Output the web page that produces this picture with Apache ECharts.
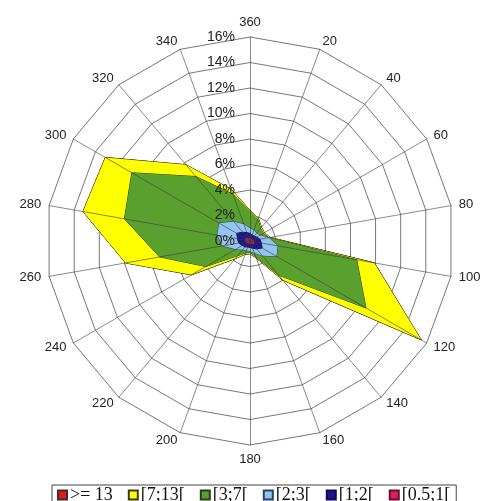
<!DOCTYPE html>
<html>
<head>
<meta charset="utf-8">
<script src="https://cdn.jsdelivr.net/npm/echarts@6/dist/echarts.min.js"></script>
<style>
html,body{margin:0;padding:0;background:#fff;}
#chart{width:484px;height:501px;}
</style>
</head>
<body>
<div id="chart"></div>
<script>
// Wind directions (degrees, clockwise from north)
const directions = [360, 20, 40, 60, 80, 100, 120, 140, 160, 180, 200, 220, 240, 260, 280, 300, 320, 340];
// Radial axis (percent of time)
const radialMax = 16;
const radialSplits = 8;
// Legend class names
const classNames = ['>= 13', '[7;13[', '[3;7[', '[2;3[', '[1;2[', '[0.5;1['];
// Cumulative frequency (%) per wind-speed class, in direction order above
const ge13   = [2.4, 1.9, 1.4, 1.3, 1.6, 9.9, 15.5, 4.0, 1.4, 1.0, 1.1, 1.8, 5.3, 9.9, 13.3, 13.1, 7.8, 4.3];
const s7to13 = [2.4, 1.9, 1.4, 1.3, 1.6, 9.9, 15.5, 4.0, 1.4, 1.0, 1.1, 1.8, 5.3, 9.9, 13.3, 13.1, 7.8, 4.3];
const s3to7  = [2.3, 1.8, 1.3, 1.2, 1.5, 8.5, 10.5, 3.5, 1.3, 0.9, 1.0, 1.5, 4.0, 7.2, 10.0, 10.7, 6.6, 3.9];
const s2to3  = [1.0, 0.9, 0.8, 0.9, 1.5, 2.2, 2.4, 1.5, 1.0, 0.8, 0.8, 0.9, 1.3, 2.2, 2.6, 2.8, 2.0, 1.4];
const s1to2  = [0.6, 0.5, 0.5, 0.6, 0.8, 0.9, 1.1, 0.8, 0.6, 0.5, 0.5, 0.6, 0.7, 0.9, 1.0, 1.2, 0.9, 0.7];
const s05to1 = [0.2, 0.2, 0.2, 0.2, 0.3, 0.3, 0.4, 0.3, 0.2, 0.2, 0.2, 0.2, 0.3, 0.3, 0.4, 0.4, 0.3, 0.2];

const colors = ['#e81818', '#ffff00', '#59a02e', '#92c6f0', '#1d1290', '#e8185e'];
const borders = ['#333333', '#3a3a10', '#24401a', '#24406e', '#120a50', '#601030'];
const seriesValues = [ge13, s7to13, s3to7, s2to3, s1to2, s05to1];

// ECharts lays radar indicators counter-clockwise; reorder for clockwise compass
const order = [0];
for (let i = directions.length - 1; i >= 1; i--) order.push(i);
const reorder = arr => order.map(i => arr[i]);

const indicatorsBase = order.map(i => ({ name: String(directions[i]), min: 0, max: radialMax }));
const indicatorsTop = order.map((i, k) => {
  const o = { name: String(directions[i]), min: 0, max: radialMax };
  if (k === 0) o.axisLabel = { show: true };
  return o;
});

const center = [250, 241];
const radius = 204;

const chart = echarts.init(document.getElementById('chart'), null, { renderer: 'canvas' });
chart.setOption({
  animation: false,
  backgroundColor: '#ffffff',
  legend: {
    data: classNames,
    left: 52,
    top: 485,
    padding: [1, 6, 1, 5],
    itemWidth: 9,
    itemHeight: 9,
    itemGap: 15,
    icon: 'rect',
    borderColor: '#444',
    borderWidth: 1,
    selectedMode: false,
    textStyle: { fontFamily: 'Liberation Serif', fontSize: 18, lineHeight: 15, color: '#111', padding: [0, 0, 0, -2] }
  },
  radar: [
    {
      center: center,
      radius: radius,
      shape: 'polygon',
      splitNumber: radialSplits,
      startAngle: 90,
      indicator: indicatorsBase,
      axisName: { show: false },
      splitLine: { lineStyle: { color: '#777777', width: 1 } },
      splitArea: { show: false },
      axisLine: { show: false },
      axisTick: { show: false },
      axisLabel: { show: false },
      z: 0
    },
    {
      center: center,
      radius: radius,
      shape: 'polygon',
      splitNumber: radialSplits,
      startAngle: 90,
      indicator: indicatorsTop,
      nameGap: 8,
      axisName: { show: true, color: '#222', fontFamily: 'Liberation Sans', fontSize: 13 },
      splitLine: { show: false },
      splitArea: { show: false },
      axisLine: { lineStyle: { color: 'rgba(60,60,60,0.6)', width: 1 } },
      axisTick: { show: false },
      axisLabel: {
        show: false,
        formatter: '{value}%',
        color: '#222',
        fontFamily: 'Liberation Sans',
        fontSize: 14,
        margin: 15
      },
      z: 5
    }
  ],
  series: classNames.map((name, k) => ({
    type: 'radar',
    name: name,
    radarIndex: 0,
    symbol: 'none',
    z: 2 + k * 0.01,
    itemStyle: { color: colors[k], borderColor: borders[k], borderWidth: 1 },
    lineStyle: { color: borders[k], width: 1 },
    areaStyle: { color: colors[k], opacity: 1 },
    data: [{ name: name, value: reorder(seriesValues[k]) }]
  }))
});
</script>
</body>
</html>
